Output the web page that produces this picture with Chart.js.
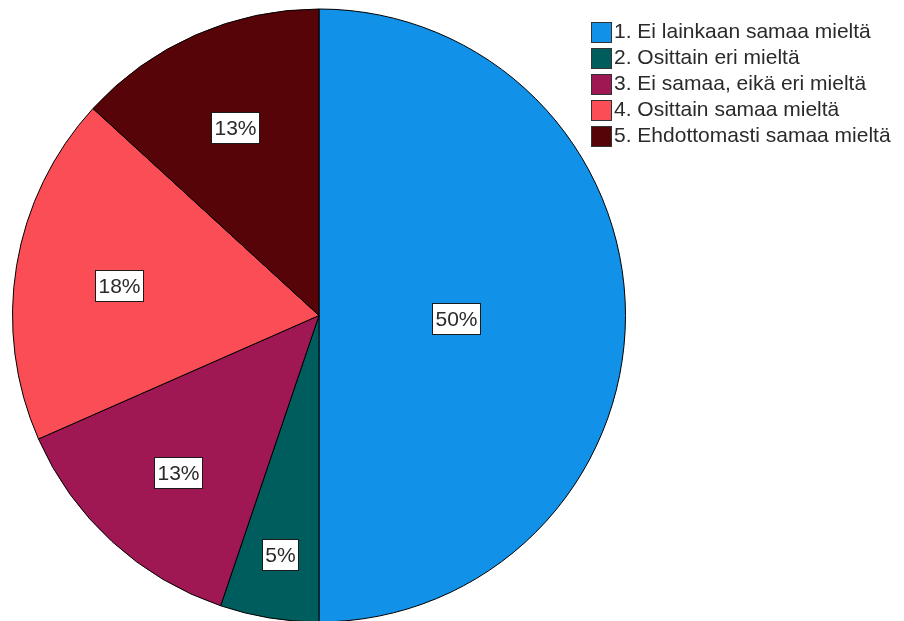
<!DOCTYPE html>
<html>
<head>
<meta charset="utf-8">
<script src="https://cdn.jsdelivr.net/npm/chart.js@4/dist/chart.umd.min.js"></script>
<style>
  html, body { margin: 0; padding: 0; background: #ffffff; overflow: hidden; }
  #wrap { width: 904px; height: 621px; overflow: hidden; }
  #pie { display: block; }
</style>
</head>
<body>
<div id="wrap"><canvas id="pie" width="904" height="625"></canvas></div>
<script>
// Answer categories (Likert scale)
const categories = [
  '1. Ei lainkaan samaa mieltä',
  '2. Osittain eri mieltä',
  '3. Ei samaa, eikä eri mieltä',
  '4. Osittain samaa mieltä',
  '5. Ehdottomasti samaa mieltä'
];
// Share of respondents, percent
const shares = [50.0, 5.2, 13.2, 18.4, 13.2];
const colors = ['#1192e8', '#005d5d', '#9f1853', '#fa4d56', '#570408'];

const FONT = '21px "Liberation Sans", Arial, sans-serif';

// Boxed percentage labels placed near each slice's centroid
const sliceLabels = {
  id: 'sliceLabels',
  afterDatasetsDraw(chart) {
    const ctx = chart.ctx;
    const meta = chart.getDatasetMeta(0);
    ctx.save();
    ctx.font = FONT;
    ctx.textAlign = 'center';
    ctx.textBaseline = 'middle';
    meta.data.forEach((arc, i) => {
      const p = arc.getProps(['x', 'y', 'startAngle', 'endAngle', 'outerRadius']);
      const span = p.endAngle - p.startAngle;
      const mid = (p.startAngle + p.endAngle) / 2;
      const h = span / 2;
      let d = (2 / 3) * p.outerRadius * Math.sin(h) / h * 1.05;
      if (span < Math.PI / 6) d = 0.78 * p.outerRadius;
      const cx = p.x + Math.cos(mid) * d;
      const cy = p.y + Math.sin(mid) * d + 3;
      const text = Math.round(shares[i]) + '%';
      const w = Math.round(ctx.measureText(text).width + 6);
      const bh = 31;
      const bx = Math.round(cx - w / 2) + 0.5;
      const by = Math.round(cy - bh / 2) + 0.5;
      ctx.fillStyle = '#ffffff';
      ctx.fillRect(bx, by, w, bh);
      ctx.strokeStyle = '#1a1a1a';
      ctx.lineWidth = 1;
      ctx.strokeRect(bx, by, w, bh);
      ctx.fillStyle = '#2a2a2a';
      ctx.fillText(text, bx + w / 2, by + bh / 2 + 1);
    });
    ctx.restore();
  }
};

// Legend on the right: colour box + category name
const sideLegend = {
  id: 'sideLegend',
  afterDraw(chart) {
    const ctx = chart.ctx;
    ctx.save();
    ctx.font = FONT;
    ctx.textAlign = 'left';
    ctx.textBaseline = 'middle';
    const x0 = 591.5, y0 = 31.5, step = 26, box = 20;
    categories.forEach((name, i) => {
      const cy = y0 + i * step;
      ctx.fillStyle = colors[i];
      ctx.fillRect(x0, Math.round(cy - box / 2) + 0.5, box, box);
      ctx.strokeStyle = '#333333';
      ctx.lineWidth = 1;
      ctx.strokeRect(x0, Math.round(cy - box / 2) + 0.5, box, box);
      ctx.fillStyle = '#2a2a2a';
      ctx.fillText(name, 614, cy + 1);
    });
    ctx.restore();
  }
};

new Chart(document.getElementById('pie'), {
  type: 'pie',
  data: {
    labels: categories,
    datasets: [{
      data: shares,
      backgroundColor: colors,
      borderColor: '#000000',
      borderWidth: 1
    }]
  },
  options: {
    responsive: false,
    animation: false,
    devicePixelRatio: 1,
    events: [],
    layout: { padding: { left: 12, top: 6, right: 278, bottom: 0 } },
    plugins: {
      legend: { display: false },
      tooltip: { enabled: false }
    }
  },
  plugins: [sliceLabels, sideLegend]
});
</script>
</body>
</html>
